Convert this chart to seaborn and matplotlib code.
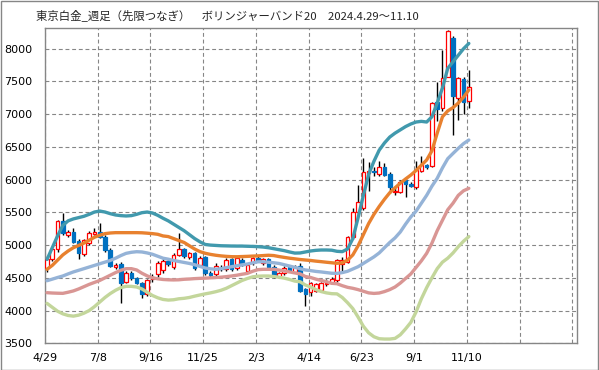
import numpy as np
import pandas as pd
import matplotlib
matplotlib.use("Agg")
import matplotlib.pyplot as plt
from matplotlib.patches import Rectangle
import seaborn as sns

# weekly candles, 81 weeks
weeks = list(range(81))
open_ = [4645, 4782, 4935, 5373, 5155, 5195, 5068, 4864, 5027, 5169,
         5205, 5129, 4925, 4660, 4711, 4441, 4568, 4492, 4426, 4253,
         4480, 4560, 4620, 4760, 4660, 4850, 4935, 4813, 4874, 4696,
         4813, 4568, 4558, 4655, 4630, 4787, 4645, 4772, 4609, 4721,
         4808, 4721, 4787, 4670, 4517, 4568, 4670, 4594, 4680, 4330,
         4280, 4303, 4314, 4410, 4426, 4467, 4711, 4747, 5129, 5510,
         5561, 6096, 6130, 6086, 6198, 6086, 5806, 5816, 5994, 5933,
         5882, 6137, 6223, 6208, 7191, 7089, 7573, 8168, 7242, 7537,
         7201]
high = [4840, 4960, 5380, 5485, 5230, 5260, 5100, 5100, 5220, 5260,
        5332, 5160, 4950, 4720, 4740, 4600, 4610, 4520, 4440, 4480,
        4560, 4760, 4800, 4790, 4880, 5190, 4960, 4900, 4890, 4840,
        4830, 4600, 4730, 4700, 4800, 4810, 4830, 4800, 4720, 4820,
        4830, 4810, 4800, 4690, 4590, 4680, 4690, 4700, 4720, 4350,
        4440, 4420, 4440, 4480, 4520, 4790, 4820, 5140, 5560, 5918,
        6325, 6274, 6200, 6280, 6250, 6120, 5900, 5990, 6020, 5960,
        6280, 6360, 6240, 7180, 7496, 7980, 8280, 8200, 7570, 7560,
        7675]
low = [4594, 4750, 4900, 5160, 5130, 5030, 4782, 4840, 5000, 5150,
       5110, 4900, 4660, 4640, 4120, 4420, 4470, 4400, 4187, 4230,
       4440, 4520, 4580, 4680, 4640, 4830, 4810, 4790, 4620, 4670,
       4540, 4500, 4520, 4600, 4600, 4610, 4620, 4680, 4590, 4700,
       4740, 4700, 4650, 4490, 4490, 4540, 4590, 4570, 4280, 4070,
       4230, 4280, 4290, 4380, 4400, 4440, 4600, 4720, 5100, 5480,
       5540, 5820, 6060, 6060, 6050, 5790, 5760, 5790, 5740, 5880,
       5860, 6110, 6160, 6190, 6900, 7050, 7560, 6682, 6911, 7000,
       7089]
close = [4782, 4935, 5368, 5180, 5205, 5052, 4874, 5078, 5180, 5200,
         5129, 4925, 4681, 4691, 4426, 4579, 4492, 4416, 4253, 4467,
         4510, 4720, 4760, 4710, 4850, 4935, 4835, 4874, 4645, 4808,
         4568, 4545, 4680, 4635, 4772, 4630, 4808, 4696, 4696, 4797,
         4757, 4787, 4670, 4517, 4568, 4645, 4609, 4670, 4300, 4260,
         4416, 4405, 4416, 4425, 4477, 4772, 4772, 5118, 5500, 5663,
         6111, 6132, 6110, 6198, 6071, 5892, 5831, 5969, 5928, 5902,
         6147, 6223, 6198, 7165, 7079, 7547, 8270, 7282, 7557, 7181,
         7420]

# bollinger band lines (20 weeks)
upper1 = [4780, 4960, 5140, 5300, 5370, 5400, 5420, 5440, 5470, 5505,
          5520, 5505, 5480, 5460, 5450, 5445, 5450, 5470, 5495, 5505,
          5490, 5455, 5410, 5370, 5320, 5270, 5220, 5160, 5100, 5050,
          5010, 5000, 4995, 4990, 4988, 4986, 4985, 4985, 4982, 4980,
          4976, 4970, 4960, 4945, 4930, 4915, 4895, 4878, 4880, 4895,
          4910, 4920, 4925, 4925, 4922, 4905, 4900, 4940, 5100, 5420,
          5760, 6080, 6280, 6450, 6560, 6650, 6710, 6760, 6810, 6850,
          6880, 6890, 6880, 6960, 7170, 7400, 7700, 7800, 7900, 8000,
          8080]
ma20 = [4630, 4690, 4770, 4850, 4910, 4960, 4995, 5030, 5075, 5120,
        5150, 5175, 5185, 5190, 5190, 5190, 5190, 5190, 5188, 5182,
        5175, 5165, 5140, 5130, 5100, 5070, 5040, 4990, 4940, 4900,
        4875, 4858, 4845, 4835, 4828, 4823, 4822, 4825, 4828, 4832,
        4835, 4840, 4845, 4840, 4825, 4812, 4800, 4790, 4780, 4772,
        4765, 4755, 4747, 4738, 4730, 4722, 4730, 4770, 4850, 4990,
        5160, 5330, 5470, 5590, 5700, 5800, 5875, 5945, 6010, 6070,
        6140, 6220, 6300, 6440, 6710, 6960, 7050, 7100, 7170, 7260,
        7370]
lower1 = [4456, 4480, 4505, 4528, 4560, 4590, 4615, 4640, 4665, 4690,
          4715, 4740, 4765, 4800, 4840, 4874, 4890, 4899, 4895, 4880,
          4860, 4830, 4800, 4785, 4765, 4750, 4735, 4720, 4700, 4675,
          4650, 4638, 4630, 4640, 4655, 4670, 4685, 4698, 4711, 4728,
          4745, 4745, 4738, 4730, 4720, 4700, 4680, 4660, 4640, 4620,
          4610, 4598, 4590, 4580, 4570, 4568, 4580, 4600, 4635, 4670,
          4720, 4770, 4820, 4880, 4960, 5040, 5110, 5200, 5320, 5430,
          5520, 5640, 5760, 5900, 6020, 6180, 6320, 6400, 6478, 6550,
          6605]
lower2 = [4273, 4268, 4265, 4263, 4280, 4300, 4330, 4365, 4400, 4430,
          4460, 4500, 4540, 4580, 4615, 4640, 4640, 4620, 4570, 4530,
          4500, 4485, 4475, 4470, 4468, 4470, 4478, 4482, 4488, 4492,
          4495, 4500, 4505, 4510, 4518, 4528, 4540, 4555, 4568, 4600,
          4625, 4630, 4630, 4630, 4619, 4605, 4590, 4575, 4560, 4520,
          4505, 4480, 4460, 4440, 4416, 4410, 4380, 4355, 4340, 4320,
          4295, 4270, 4262, 4268, 4290, 4320, 4360, 4420, 4490, 4560,
          4660, 4760, 4874, 5030, 5220, 5380, 5540, 5640, 5760, 5830,
          5867]
lower3 = [4110, 4050, 3990, 3950, 3925, 3915, 3930, 3960, 4000, 4060,
          4130, 4200, 4260, 4310, 4350, 4370, 4370, 4360, 4330, 4280,
          4230, 4195, 4170, 4160, 4165, 4180, 4187, 4200, 4220, 4238,
          4255, 4270, 4288, 4310, 4340, 4380, 4420, 4460, 4490, 4515,
          4525, 4528, 4528, 4520, 4510, 4495, 4475, 4450, 4440, 4390,
          4360, 4320, 4290, 4270, 4258, 4255, 4200, 4120, 4030, 3900,
          3760, 3660, 3600, 3570, 3565, 3565, 3575, 3630, 3720, 3820,
          3980, 4180, 4350, 4500, 4640, 4740, 4800, 4880, 4976, 5060,
          5130]

tick_labels = ["4/29", "7/8", "9/16", "11/25", "2/3", "4/14", "6/23",
               "9/1", "11/10", "", ""]
title = "東京白金_週足（先限つなぎ）　ボリンジャーバンド20　2024.4.29～11.10"

sns.set_style("white")
plt.rcParams["font.family"] = ["Noto Sans CJK JP", "DejaVu Sans"]

fig = plt.figure(figsize=(5.99, 3.70), dpi=100)
ax = fig.add_axes([45 / 599, 1 - 343.3 / 370, 532.3 / 599, 315.3 / 370])

# candles
o = np.array(open_)
c = np.array(close)
up = c >= o
body_lo = np.minimum(o, c)
body_h = np.maximum(np.abs(c - o), 12)
ax.vlines(weeks, low, high, color="black", lw=1, zorder=2)
ax.bar(weeks, body_h, bottom=body_lo, width=0.7,
       color=np.where(up, "white", "#0070C0"),
       edgecolor=np.where(up, "#FF0000", "#0070C0"),
       linewidth=0.9, zorder=3)

# bands
bands = pd.DataFrame({"week": weeks, "+1σ": upper1, "MA20": ma20,
                      "-1σ": lower1, "-2σ": lower2, "-3σ": lower3})
long = bands.melt(id_vars="week", var_name="band", value_name="price")
palette = {"+1σ": "#4199AD", "MA20": "#E8812F", "-1σ": "#95B3D7",
           "-2σ": "#D99694", "-3σ": "#C3D69B"}
sns.lineplot(data=long, x="week", y="price", hue="band",
             hue_order=["-3σ", "-2σ", "-1σ", "+1σ", "MA20"],
             palette=palette, linewidth=2.4, legend=False, ax=ax, zorder=4)

# axes
ax.set_xlim(-0.38, 100.57)
ax.set_ylim(3500, 8316)
ax.set_xticks([-0.38 + 10 * k for k in range(11)])
ax.set_xticklabels(tick_labels)
ax.set_yticks(range(3500, 8001, 500))
ax.set_xlabel("")
ax.set_ylabel("")
ax.grid(True, color="#868686", linestyle=(0, (3.5, 2.5)), linewidth=0.8)
ax.set_axisbelow(True)
for s in ax.spines.values():
    s.set_color("#868686")
    s.set_linewidth(1)
ax.tick_params(axis="both", colors="#868686", length=4, width=0.8,
               labelcolor="black", labelsize=8, direction="out")
ax.tick_params(axis="y", pad=5)
ax.tick_params(axis="x", pad=3)
for lab in ax.get_xticklabels() + ax.get_yticklabels():
    lab.set_family("DejaVu Sans")

fig.text(36 / 599, 1 - 15 / 370, title, fontsize=8.2, va="center", ha="left")
fig.patches.append(Rectangle((0.5 / 599, 0.5 / 370), 597.5 / 599, 368.5 / 370,
                             transform=fig.transFigure, fill=False,
                             edgecolor="#868686", linewidth=1))

fig.savefig("out.png", dpi=100)
